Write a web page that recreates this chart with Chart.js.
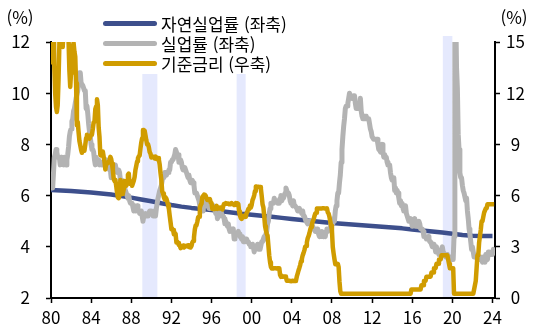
<!DOCTYPE html>
<html lang="ko">
<head>
<meta charset="utf-8">
<script src="https://cdn.jsdelivr.net/npm/chart.js@4.4.1/dist/chart.umd.min.js"></script>
<style>
  html, body { margin: 0; padding: 0; background: #fff; }
  #wrap { position: relative; width: 537px; height: 331px; font-family: 'Noto Sans CJK KR', sans-serif; color: #000; }
  .unit { position: absolute; top: 7px; width: 40px; text-align: center; font-size: 17px; line-height: 20px; }
  #legend { position: absolute; left: 98px; top: 0; width: 205px; height: 74px; background: #fff; }
  .row { position: absolute; left: 5px; height: 20px; display: flex; align-items: center; font-size: 17px; white-space: nowrap; }
  .swatch { width: 54px; height: 5px; border-radius: 3px; margin-right: 4px; }
</style>
</head>
<body>
<div id="wrap">
  <canvas id="chart" width="537" height="331"></canvas>
  <div class="unit" style="left:0px">(%)</div>
  <div class="unit" style="left:494px">(%)</div>
  <div id="legend"></div>
</div>
<script>
// x axis ticks (years) and shaded periods
const yearTicks = [1980, 1984, 1988, 1992, 1996, 2000, 2004, 2008, 2012, 2016, 2020, 2024];
const shadeStart = [1989.1, 1998.5, 2019.05];
const shadeEnd = [1990.6, 1999.4, 2020.0];

// natural rate of unemployment, one value per January 1980..2024 (left axis)
const naturalYears = [];
for (let y = 1980; y <= 2024; y++) naturalYears.push(y);
const naturalRate = [
  6.22, 6.20, 6.18, 6.15, 6.12, 6.08, 6.04, 5.98, 5.92, 5.85,
  5.78, 5.70, 5.63, 5.57, 5.52, 5.48, 5.44, 5.39, 5.34, 5.29,
  5.25, 5.21, 5.17, 5.13, 5.09, 5.05, 5.01, 4.97, 4.93, 4.90,
  4.87, 4.84, 4.81, 4.78, 4.75, 4.72, 4.68, 4.64, 4.60, 4.56,
  4.51, 4.46, 4.43, 4.42, 4.42
];

// unemployment rate, monthly from Jan 1980 (left axis)
const unemployment = [
  6.3, 6.3, 6.3, 6.9, 7.5, 7.6, 7.8, 7.7, 7.5, 7.5, 7.5, 7.2,
  7.5, 7.4, 7.4, 7.2, 7.5, 7.5, 7.2, 7.4, 7.6, 7.9, 8.3, 8.5,
  8.6, 8.9, 9.0, 9.3, 9.4, 9.6, 9.8, 9.8, 10.1, 10.4, 10.8, 10.8,
  10.4, 10.4, 10.3, 10.2, 10.1, 10.1, 9.4, 9.5, 9.2, 8.8, 8.5, 8.3,
  8.0, 7.8, 7.8, 7.7, 7.4, 7.2, 7.5, 7.5, 7.3, 7.4, 7.2, 7.3,
  7.3, 7.2, 7.2, 7.3, 7.2, 7.4, 7.4, 7.1, 7.1, 7.1, 7.0, 7.0,
  6.7, 7.2, 7.2, 7.1, 7.2, 7.2, 7.0, 6.9, 7.0, 7.0, 6.9, 6.6,
  6.6, 6.6, 6.6, 6.3, 6.3, 6.2, 6.1, 6.0, 5.9, 6.0, 5.8, 5.7,
  5.7, 5.7, 5.7, 5.4, 5.6, 5.4, 5.4, 5.6, 5.4, 5.4, 5.3, 5.3,
  5.4, 5.2, 5.0, 5.2, 5.2, 5.3, 5.2, 5.2, 5.3, 5.3, 5.4, 5.4,
  5.4, 5.3, 5.2, 5.4, 5.4, 5.2, 5.5, 5.7, 5.9, 5.9, 6.2, 6.3,
  6.4, 6.6, 6.8, 6.7, 6.9, 6.9, 6.8, 6.9, 6.9, 7.0, 7.0, 7.3,
  7.3, 7.4, 7.4, 7.4, 7.6, 7.8, 7.7, 7.6, 7.6, 7.3, 7.4, 7.4,
  7.3, 7.1, 7.0, 7.1, 7.1, 7.0, 6.9, 6.8, 6.7, 6.8, 6.6, 6.5,
  6.6, 6.6, 6.5, 6.4, 6.1, 6.1, 6.1, 6.0, 5.9, 5.8, 5.6, 5.5,
  5.6, 5.4, 5.4, 5.8, 5.6, 5.6, 5.7, 5.7, 5.6, 5.5, 5.6, 5.6,
  5.6, 5.5, 5.5, 5.6, 5.6, 5.3, 5.5, 5.1, 5.2, 5.2, 5.4, 5.4,
  5.3, 5.2, 5.2, 5.1, 4.9, 5.0, 4.9, 4.8, 4.9, 4.7, 4.6, 4.7,
  4.6, 4.6, 4.7, 4.3, 4.4, 4.5, 4.5, 4.5, 4.6, 4.5, 4.4, 4.4,
  4.3, 4.4, 4.2, 4.3, 4.2, 4.3, 4.3, 4.2, 4.2, 4.1, 4.1, 4.0,
  4.0, 4.1, 4.0, 3.8, 4.0, 4.0, 4.0, 4.1, 3.9, 3.9, 3.9, 3.9,
  4.2, 4.2, 4.3, 4.4, 4.3, 4.5, 4.6, 4.9, 5.0, 5.3, 5.5, 5.7,
  5.7, 5.7, 5.7, 5.9, 5.8, 5.8, 5.8, 5.7, 5.7, 5.7, 5.9, 6.0,
  5.8, 5.9, 5.9, 6.0, 6.1, 6.3, 6.2, 6.1, 6.1, 6.0, 5.8, 5.7,
  5.7, 5.6, 5.8, 5.6, 5.6, 5.6, 5.5, 5.4, 5.4, 5.5, 5.4, 5.4,
  5.3, 5.4, 5.2, 5.2, 5.1, 5.0, 5.0, 4.9, 5.0, 5.0, 5.0, 4.9,
  4.7, 4.8, 4.7, 4.7, 4.6, 4.6, 4.7, 4.7, 4.5, 4.4, 4.5, 4.4,
  4.6, 4.5, 4.4, 4.5, 4.4, 4.6, 4.7, 4.6, 4.7, 4.7, 4.7, 5.0,
  5.0, 4.9, 5.1, 5.0, 5.4, 5.6, 5.8, 6.1, 6.1, 6.5, 6.8, 7.3,
  7.8, 8.3, 8.7, 9.0, 9.4, 9.5, 9.5, 9.6, 9.8, 10.0, 9.9, 9.9,
  9.8, 9.8, 9.9, 9.9, 9.6, 9.4, 9.4, 9.5, 9.5, 9.4, 9.8, 9.3,
  9.1, 9.0, 9.0, 9.1, 9.0, 9.1, 9.0, 9.0, 9.0, 8.8, 8.6, 8.5,
  8.3, 8.3, 8.2, 8.2, 8.2, 8.2, 8.2, 8.0, 7.8, 7.8, 7.7, 7.9,
  8.0, 7.7, 7.5, 7.6, 7.5, 7.5, 7.3, 7.2, 7.2, 7.2, 6.9, 6.7,
  6.6, 6.7, 6.7, 6.2, 6.3, 6.1, 6.2, 6.1, 5.9, 5.7, 5.8, 5.6,
  5.7, 5.5, 5.4, 5.4, 5.6, 5.3, 5.2, 5.1, 5.0, 5.0, 5.1, 5.0,
  4.8, 4.9, 5.0, 5.1, 4.8, 4.9, 4.8, 4.9, 5.0, 4.9, 4.7, 4.7,
  4.7, 4.6, 4.4, 4.4, 4.4, 4.3, 4.3, 4.4, 4.3, 4.2, 4.2, 4.1,
  4.0, 4.1, 4.0, 4.0, 3.8, 4.0, 3.8, 3.8, 3.7, 3.8, 3.8, 3.9,
  4.0, 3.8, 3.8, 3.7, 3.6, 3.6, 3.7, 3.6, 3.5, 3.6, 3.6, 3.6,
  3.5, 3.5, 4.4, 14.8, 13.2, 11.0, 10.2, 8.4, 7.8, 6.9, 6.7, 6.7,
  6.4, 6.2, 6.1, 6.1, 5.8, 5.9, 5.4, 5.1, 4.7, 4.5, 4.2, 3.9,
  4.0, 3.8, 3.6, 3.7, 3.6, 3.6, 3.5, 3.6, 3.5, 3.6, 3.6, 3.5,
  3.4, 3.6, 3.5, 3.4, 3.7, 3.6, 3.5, 3.8, 3.8, 3.8, 3.7, 3.7,
  3.7, 3.9, 3.8
];

// policy rate, monthly from Jan 1980 (right axis)
const policyRate = [
  13.82, 14.13, 17.19, 17.61, 13.50, 12.00, 11.20, 10.90, 11.30, 12.80, 14.80, 18.90,
  19.08, 15.93, 14.70, 15.72, 18.52, 19.10, 19.04, 17.82, 15.87, 15.08, 13.31, 12.37,
  13.22, 14.78, 14.68, 14.94, 14.45, 14.15, 12.59, 10.12, 10.31, 9.71, 9.20, 8.95,
  8.68, 8.51, 8.77, 8.80, 8.63, 8.98, 9.37, 9.56, 9.45, 9.48, 9.34, 9.47,
  9.56, 9.59, 9.91, 10.29, 10.32, 11.06, 11.23, 11.64, 11.30, 9.99, 9.43, 8.38,
  8.35, 8.50, 8.58, 8.27, 7.97, 7.53, 7.88, 7.90, 7.92, 7.99, 8.05, 8.27,
  8.14, 7.86, 7.48, 6.99, 6.85, 6.92, 6.56, 6.17, 5.89, 5.85, 6.04, 6.91,
  6.43, 6.10, 6.13, 6.37, 6.85, 6.73, 6.58, 6.73, 7.22, 7.29, 6.69, 6.77,
  6.83, 6.58, 6.58, 6.87, 7.09, 7.51, 7.75, 8.01, 8.19, 8.30, 8.35, 8.76,
  9.12, 9.36, 9.85, 9.84, 9.81, 9.53, 9.24, 8.99, 9.02, 8.84, 8.55, 8.45,
  8.23, 8.24, 8.28, 8.26, 8.18, 8.29, 8.15, 8.13, 8.20, 8.11, 7.81, 7.31,
  6.91, 6.25, 6.12, 5.91, 5.78, 5.90, 5.82, 5.66, 5.45, 5.21, 4.81, 4.43,
  4.03, 4.06, 3.98, 3.73, 3.82, 3.76, 3.25, 3.30, 3.22, 3.10, 3.09, 2.92,
  3.02, 3.03, 3.07, 2.96, 3.00, 3.04, 3.06, 3.03, 3.09, 2.99, 3.02, 2.96,
  3.05, 3.25, 3.34, 3.56, 4.01, 4.25, 4.26, 4.47, 4.73, 4.76, 5.29, 5.45,
  5.53, 5.92, 5.98, 6.05, 6.01, 6.00, 5.85, 5.74, 5.80, 5.76, 5.80, 5.60,
  5.56, 5.22, 5.31, 5.22, 5.24, 5.27, 5.40, 5.22, 5.30, 5.24, 5.31, 5.29,
  5.25, 5.19, 5.39, 5.51, 5.50, 5.56, 5.52, 5.54, 5.54, 5.50, 5.52, 5.50,
  5.56, 5.51, 5.49, 5.45, 5.49, 5.56, 5.54, 5.55, 5.51, 5.07, 4.83, 4.68,
  4.63, 4.76, 4.81, 4.74, 4.74, 4.76, 4.99, 5.07, 5.22, 5.20, 5.42, 5.30,
  5.45, 5.73, 5.85, 6.02, 6.27, 6.53, 6.54, 6.50, 6.52, 6.51, 6.51, 6.40,
  5.98, 5.49, 5.31, 4.80, 4.21, 3.97, 3.77, 3.65, 3.07, 2.49, 2.09, 1.82,
  1.73, 1.74, 1.73, 1.75, 1.75, 1.75, 1.73, 1.74, 1.75, 1.75, 1.34, 1.24,
  1.24, 1.26, 1.25, 1.26, 1.26, 1.22, 1.01, 1.03, 1.01, 1.01, 1.00, 0.98,
  1.00, 1.01, 1.00, 1.00, 1.00, 1.03, 1.26, 1.43, 1.61, 1.76, 1.93, 2.16,
  2.28, 2.50, 2.63, 2.79, 3.00, 3.04, 3.26, 3.50, 3.62, 3.78, 4.00, 4.16,
  4.29, 4.49, 4.59, 4.79, 4.94, 4.99, 5.24, 5.25, 5.25, 5.25, 5.25, 5.24,
  5.25, 5.26, 5.26, 5.25, 5.25, 5.25, 5.26, 5.02, 4.94, 4.76, 4.49, 4.24,
  3.94, 2.98, 2.61, 2.28, 1.98, 2.00, 2.01, 2.00, 1.81, 0.97, 0.39, 0.25,
  0.25, 0.25, 0.25, 0.25, 0.25, 0.25, 0.25, 0.25, 0.25, 0.25, 0.25, 0.25,
  0.25, 0.25, 0.25, 0.25, 0.25, 0.25, 0.25, 0.25, 0.25, 0.25, 0.25, 0.25,
  0.25, 0.25, 0.25, 0.25, 0.25, 0.25, 0.25, 0.25, 0.25, 0.25, 0.25, 0.25,
  0.25, 0.25, 0.25, 0.25, 0.25, 0.25, 0.25, 0.25, 0.25, 0.25, 0.25, 0.25,
  0.25, 0.25, 0.25, 0.25, 0.25, 0.25, 0.25, 0.25, 0.25, 0.25, 0.25, 0.25,
  0.25, 0.25, 0.25, 0.25, 0.25, 0.25, 0.25, 0.25, 0.25, 0.25, 0.25, 0.25,
  0.25, 0.25, 0.25, 0.25, 0.25, 0.25, 0.25, 0.25, 0.25, 0.25, 0.25, 0.50,
  0.50, 0.50, 0.50, 0.50, 0.50, 0.50, 0.50, 0.50, 0.50, 0.50, 0.50, 0.75,
  0.75, 0.75, 1.00, 1.00, 1.00, 1.25, 1.25, 1.25, 1.25, 1.25, 1.25, 1.50,
  1.50, 1.50, 1.75, 1.75, 1.75, 2.00, 2.00, 2.00, 2.25, 2.25, 2.25, 2.50,
  2.50, 2.50, 2.50, 2.50, 2.50, 2.50, 2.50, 2.25, 2.00, 1.75, 1.75, 1.75,
  1.75, 1.75, 0.25, 0.25, 0.25, 0.25, 0.25, 0.25, 0.25, 0.25, 0.25, 0.25,
  0.25, 0.25, 0.25, 0.25, 0.25, 0.25, 0.25, 0.25, 0.25, 0.25, 0.25, 0.25,
  0.25, 0.25, 0.50, 0.50, 1.00, 1.75, 2.50, 2.50, 3.25, 3.25, 4.00, 4.50,
  4.50, 4.75, 5.00, 5.00, 5.25, 5.25, 5.50, 5.50, 5.50, 5.50, 5.50, 5.50,
  5.50, 5.50, 5.50
];

const seriesNames = ['자연실업률 (좌축)', '실업률 (좌축)', '기준금리 (우축)'];
const seriesColors = ['#3d4f8c', '#b3b3b3', '#d09c00'];

const font = { family: "'Noto Sans CJK KR', 'Noto Sans', sans-serif", size: 17 };
const monthly = arr => arr.map((v, i) => ({ x: 1980 + i / 12, y: v }));

// html legend with a white box (it sits over the shaded bands)
const legend = document.getElementById('legend');
seriesNames.forEach((name, i) => {
  const row = document.createElement('div');
  row.className = 'row';
  row.style.top = (13 + i * 20) + 'px';
  row.innerHTML = '<span class="swatch" style="background:' + seriesColors[i] + '"></span><span>' + name + '</span>';
  legend.appendChild(row);
});

const shadeBands = {
  id: 'shadeBands',
  beforeDatasetsDraw (chart) {
    const { ctx, chartArea, scales } = chart;
    ctx.save();
    ctx.fillStyle = '#e5e9fd';
    shadeStart.forEach((s, i) => {
      const x0 = scales.x.getPixelForValue(s);
      const x1 = scales.x.getPixelForValue(shadeEnd[i]);
      ctx.fillRect(x0, chartArea.top - 6, x1 - x0, chartArea.bottom - chartArea.top + 5);
    });
    ctx.restore();
  }
};

const axisTicks = { font, color: '#000' };
const axisGrid = { drawOnChartArea: false, tickLength: 5, tickColor: '#000', tickWidth: 1.5 };
const axisBorder = { color: '#000', width: 2 };

new Chart(document.getElementById('chart').getContext('2d'), {
  type: 'line',
  data: {
    datasets: [
      {
        label: seriesNames[2],
        data: monthly(policyRate),
        yAxisID: 'y2',
        borderColor: seriesColors[2],
        borderWidth: 4.5
      },
      {
        label: seriesNames[1],
        data: monthly(unemployment),
        yAxisID: 'y',
        borderColor: seriesColors[1],
        borderWidth: 5
      },
      {
        label: seriesNames[0],
        data: naturalRate.map((v, i) => ({ x: naturalYears[i], y: v })),
        yAxisID: 'y',
        borderColor: seriesColors[0],
        borderWidth: 4.5
      }
    ]
  },
  options: {
    responsive: false,
    animation: false,
    devicePixelRatio: 1,
    layout: { padding: { top: 42, left: 0, right: 0, bottom: 0 } },
    elements: {
      point: { radius: 0 },
      line: { tension: 0, fill: false, borderJoinStyle: 'round', borderCapStyle: 'butt' }
    },
    datasets: { line: { clip: 0 } },
    plugins: { legend: { display: false }, tooltip: { enabled: false } },
    scales: {
      x: {
        type: 'linear',
        min: 1980,
        max: 2024.25,
        afterBuildTicks: s => { s.ticks = yearTicks.map(v => ({ value: v })); },
        afterFit: s => { s.height = 33; },
        ticks: { ...axisTicks, padding: 4, maxRotation: 0, autoSkip: false, callback: v => String(v % 100).padStart(2, '0') },
        grid: axisGrid,
        border: axisBorder
      },
      y: {
        position: 'left',
        min: 2,
        max: 12,
        afterFit: s => { s.width = 51; },
        ticks: { ...axisTicks, stepSize: 2, padding: 16 },
        grid: axisGrid,
        border: axisBorder
      },
      y2: {
        position: 'right',
        min: 0,
        max: 15,
        afterFit: s => { s.width = 42; },
        ticks: { ...axisTicks, stepSize: 3, padding: 6, crossAlign: 'center' },
        grid: axisGrid,
        border: axisBorder
      }
    }
  },
  plugins: [shadeBands]
});
</script>
</body>
</html>
